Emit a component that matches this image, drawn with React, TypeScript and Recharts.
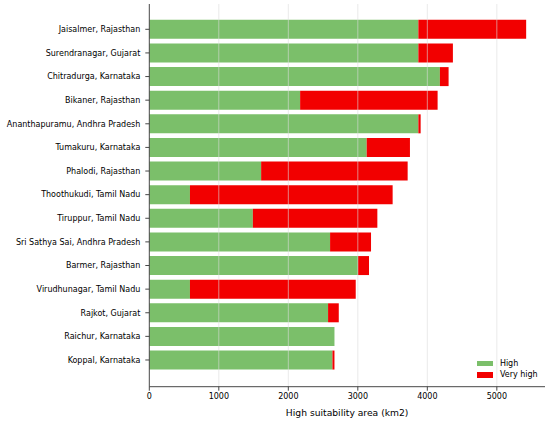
import React from 'react';
import { BarChart, Bar, XAxis, YAxis, ReferenceLine } from 'recharts';

const districts = [
  'Jaisalmer, Rajasthan',
  'Surendranagar, Gujarat',
  'Chitradurga, Karnataka',
  'Bikaner, Rajasthan',
  'Ananthapuramu, Andhra Pradesh',
  'Tumakuru, Karnataka',
  'Phalodi, Rajasthan',
  'Thoothukudi, Tamil Nadu',
  'Tiruppur, Tamil Nadu',
  'Sri Sathya Sai, Andhra Pradesh',
  'Barmer, Rajasthan',
  'Virudhunagar, Tamil Nadu',
  'Rajkot, Gujarat',
  'Raichur, Karnataka',
  'Koppal, Karnataka',
];

const highValues = [3871, 3871, 4181, 2170, 3871, 3128, 1609, 585, 1490, 2601, 3003, 585, 2572, 2664, 2635];
const veryHighValues = [1551, 497, 125, 1978, 33, 622, 2108, 2916, 1791, 589, 158, 2385, 154, 0, 29];

const xTicks = [0, 1000, 2000, 3000, 4000, 5000];

const seriesNames = ['High', 'Very high'];
const colors = ['#7BBF6A', '#F20000'];

const data = districts.map((name, i) => ({
  name,
  high: highValues[i],
  veryHigh: veryHighValues[i],
}));

const FONT = 'DejaVu Sans, sans-serif';

const YTick = (props: any) => {
  const { x, y, payload } = props;
  return (
    <text x={x} y={y} dy="0.35em" textAnchor="end" fontSize={8} fill="#000" fontFamily={FONT}>
      {payload.value}
    </text>
  );
};

export default function App() {
  return (
    <div style={{ position: 'absolute', left: 0, top: 0, width: 550, height: 421, background: '#fff' }}>
      <BarChart
        width={550}
        height={421}
        data={data}
        layout="vertical"
        margin={{ top: 4, right: 5, bottom: 0, left: 0 }}
        barCategoryGap="10%"
      >
        <XAxis
          type="number"
          domain={[0, 5693]}
          ticks={xTicks}
          allowDataOverflow
          height={34.3}
          tickSize={4}
          tickMargin={3}
          tick={{ fontSize: 8, fill: '#000', fontFamily: FONT }}
          axisLine={{ stroke: '#333', strokeWidth: 0.9 }}
          tickLine={{ stroke: '#333', strokeWidth: 0.9 }}
          label={{
            value: 'High suitability area (km2)',
            position: 'insideBottom',
            offset: 5,
            style: { fontSize: 9.2, fill: '#000', fontFamily: FONT },
          }}
        />
        <YAxis
          type="category"
          dataKey="name"
          width={149.3}
          padding={{ top: 13.5, bottom: 14.9 }}
          tickSize={4}
          tickMargin={5}
          interval={0}
          tick={<YTick />}
          axisLine={{ stroke: '#333', strokeWidth: 0.9 }}
          tickLine={{ stroke: '#333', strokeWidth: 0.9 }}
        />
        <Bar dataKey="high" stackId="a" fill={colors[0]} name={seriesNames[0]} isAnimationActive={false} />
        <Bar dataKey="veryHigh" stackId="a" fill={colors[1]} name={seriesNames[1]} isAnimationActive={false} />
        {xTicks.slice(1).map((t) => (
          <ReferenceLine key={t} x={t} stroke="#dcdcdc" strokeOpacity={0.6} strokeWidth={1} />
        ))}
      </BarChart>
      <div
        style={{
          position: 'absolute',
          left: 476.7,
          top: 357.5,
          fontFamily: FONT,
          fontSize: 8,
          color: '#000',
          lineHeight: '11.7px',
        }}
      >
        {seriesNames.map((n, i) => (
          <div key={n} style={{ display: 'flex', alignItems: 'center', height: 11.7, whiteSpace: 'nowrap' }}>
            <div style={{ width: 16.7, height: 5.4, background: colors[i], marginRight: 6.5, flexShrink: 0 }} />
            <span>{n}</span>
          </div>
        ))}
      </div>
    </div>
  );
}
